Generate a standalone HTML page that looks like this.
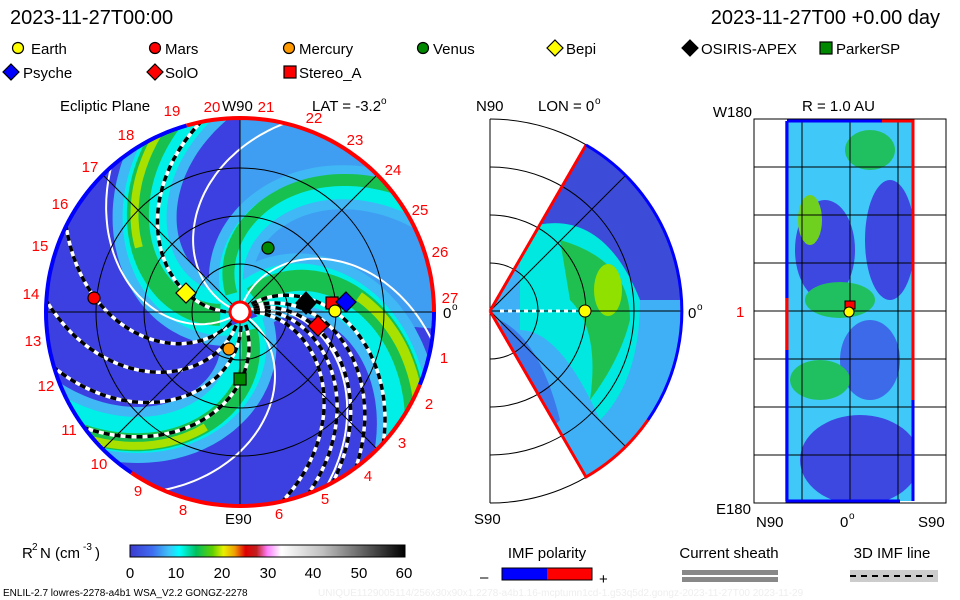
<!DOCTYPE html>
<html><head><meta charset="utf-8"><style>
body{margin:0;background:#fff;}
svg{display:block;font-family:"Liberation Sans",sans-serif;}
</style></head><body>
<svg id="s" width="960" height="600" viewBox="0 0 960 600" xmlns="http://www.w3.org/2000/svg">
<defs>
<clipPath id="disc"><circle cx="240" cy="312" r="194"/></clipPath>
<clipPath id="wedge"><path d="M490,311 L586,145 A192,192 0 0 1 586,477 Z"/></clipPath>
<clipPath id="rect"><rect x="785" y="121" width="129" height="380"/></clipPath>
<linearGradient id="cb" x1="0" x2="1">
<stop offset="0" stop-color="#3b3bd0"/><stop offset="0.08" stop-color="#3f6cf0"/><stop offset="0.14" stop-color="#3fc0f8"/><stop offset="0.18" stop-color="#00ffff"/><stop offset="0.24" stop-color="#00c060"/><stop offset="0.3" stop-color="#60d000"/><stop offset="0.34" stop-color="#e8f000"/><stop offset="0.38" stop-color="#f0a000"/><stop offset="0.42" stop-color="#e00000"/><stop offset="0.46" stop-color="#c02020"/><stop offset="0.5" stop-color="#ff80ff"/><stop offset="0.55" stop-color="#ffffff"/><stop offset="0.7" stop-color="#c0c0c0"/><stop offset="1" stop-color="#000"/>
</linearGradient>
</defs>
<g font-size="20" fill="#000">
<text x="10" y="24">2023-11-27T00:00</text>
<text x="940" y="24" text-anchor="end">2023-11-27T00 +0.00 day</text>
</g>
<g font-size="15" fill="#000" stroke="#000" stroke-width="1.2">
<circle cx="18" cy="48" r="5.5" fill="#ff0"/><circle cx="155" cy="48" r="5.5" fill="#f00"/><circle cx="289" cy="48" r="5.5" fill="#f90"/><circle cx="423" cy="48" r="5.5" fill="#080"/>
<path d="M555,40 L563,48 L555,56 L547,48Z" fill="#ff0"/><path d="M690,40 L698,48 L690,56 L682,48Z" fill="#000"/><rect x="820" y="42" width="12" height="12" fill="#080"/>
<path d="M11,64 L19,72 L11,80 L3,72Z" fill="#00f"/><path d="M155,64 L163,72 L155,80 L147,72Z" fill="#f00"/><rect x="284" y="66" width="12" height="12" fill="#f00"/>
</g>
<g font-size="15" fill="#000">
<text x="31" y="54">Earth</text><text x="165" y="54">Mars</text><text x="299" y="54">Mercury</text><text x="433" y="54">Venus</text><text x="566" y="54">Bepi</text><text x="701" y="54">OSIRIS-APEX</text><text x="836" y="54">ParkerSP</text>
<text x="23" y="78">Psyche</text><text x="165" y="78">SolO</text><text x="299" y="78">Stereo_A</text>
<text x="60" y="111">Ecliptic Plane</text><text x="222" y="111">W90</text><text x="312" y="111">LAT = -3.2</text><text x="381" y="104" font-size="10">o</text>
<text x="476" y="111">N90</text><text x="538" y="111">LON = 0</text><text x="595" y="104" font-size="10">o</text>
<text x="752" y="117" text-anchor="end">W180</text><text x="802" y="111">R = 1.0 AU</text>
</g>
<!-- main disc -->
<g clip-path="url(#disc)">
<rect x="40" y="110" width="400" height="400" fill="#3c40e0"/>
<path d="M240,312 L240,100 L450,100 L450,330 Z" fill="#40a8f4" opacity="0.9"/>
<g id="bands"></g>
</g>
<g id="dash" clip-path="url(#disc)"></g>
<g stroke="#000" stroke-width="1" fill="none" clip-path="url(#disc)">
<circle cx="240" cy="312" r="48"/><circle cx="240" cy="312" r="96"/><circle cx="240" cy="312" r="144"/>
<line x1="40" y1="312" x2="440" y2="312"/><line x1="240" y1="110" x2="240" y2="515"/>
<line x1="100" y1="172" x2="380" y2="452"/><line x1="100" y1="452" x2="380" y2="172"/>
</g>
<circle cx="240" cy="312" r="10" fill="#fff" stroke="#f00" stroke-width="3"/>
<g stroke="#000" stroke-width="1.2">
<circle cx="268" cy="248" r="6" fill="#080"/>
<path d="M186,283 L196,293 L186,303 L176,293Z" fill="#ff0"/>
<circle cx="94" cy="298" r="6" fill="#f00"/>
<circle cx="229" cy="349" r="6" fill="#f90"/>
<rect x="234" y="373" width="12" height="12" fill="#080"/>
<path d="M306,292 L316,303 L306,314 L296,303Z" fill="#000"/>
<rect x="326" y="297" width="12" height="12" fill="#f00"/>
<path d="M346,292 L356,302 L346,312 L336,302Z" fill="#00f"/>
<circle cx="335" cy="311" r="6" fill="#ff0"/>
<path d="M318,316 L328,326 L318,336 L308,326Z" fill="#f00"/>
</g>
<g font-size="15" fill="#f00" text-anchor="middle" id="nums"></g>
<g font-size="15" fill="#000"><text x="443" y="318">0</text><text x="452" y="310" font-size="10">o</text><text x="225" y="524">E90</text></g>
<!-- middle -->
<g clip-path="url(#wedge)">
<rect x="490" y="140" width="200" height="340" fill="#3fb0f6"/>
<path d="M490,311 L586,145 A192,192 0 0 1 682,300 L600,300 Q560,220 500,250Z" fill="#3c4cd8"/>
<path d="M520,230 Q600,200 640,300 Q640,380 600,420 Q560,330 520,330Z" fill="#00e8e0"/>
<path d="M560,240 Q630,260 630,320 Q620,360 590,400 Q600,330 570,300 Z" fill="#20c050"/>
<ellipse cx="608" cy="290" rx="14" ry="26" fill="#90e000"/>
<path d="M500,320 Q540,340 560,420 L520,460 Z" fill="#3c6ce8" opacity="0.8"/>
</g>
<g stroke="#000" stroke-width="1" fill="none">
<line x1="490" y1="119" x2="490" y2="503"/>
<path d="M490,263 A48,48 0 0 1 490,359 M490,215 A96,96 0 0 1 490,407 M490,167 A144,144 0 0 1 490,455 M490,119 A192,192 0 0 1 490,503"/>
<line x1="490" y1="311" x2="682" y2="311"/>
<line x1="490" y1="311" x2="626" y2="175"/><line x1="490" y1="311" x2="626" y2="447"/>
</g>
<path d="M490,311 L586,145" stroke="#f00" stroke-width="3"/>
<path d="M490,311 L586,477 A192,192 0 0 0 648,420" stroke="#f00" stroke-width="3" fill="none"/>
<path d="M586,145 A192,192 0 0 1 648,420" stroke="#00f" stroke-width="3" fill="none"/>
<path d="M500,311 L585,311" stroke="#fff" stroke-width="3" stroke-dasharray="4,4"/>
<circle cx="585" cy="311" r="6" fill="#ff0" stroke="#000"/>
<text x="688" y="318" font-size="15">0</text><text x="697" y="310" font-size="10">o</text>
<text x="474" y="524" font-size="15">S90</text>
<!-- right -->
<g clip-path="url(#rect)">
<rect x="785" y="121" width="129" height="380" fill="#3fc8f8"/>
<ellipse cx="825" cy="250" rx="30" ry="50" fill="#3c48e0"/>
<ellipse cx="890" cy="240" rx="25" ry="60" fill="#3c48e0"/>
<ellipse cx="860" cy="460" rx="60" ry="45" fill="#3c48e0"/>
<ellipse cx="870" cy="360" rx="30" ry="40" fill="#3c6ae8"/>
<ellipse cx="840" cy="300" rx="35" ry="18" fill="#20c060"/>
<ellipse cx="820" cy="380" rx="30" ry="20" fill="#20c060"/>
<ellipse cx="870" cy="150" rx="25" ry="20" fill="#20c060"/>
<ellipse cx="810" cy="220" rx="12" ry="25" fill="#70d020"/>
</g>
<g stroke="#000" stroke-width="1" fill="none">
<rect x="754" y="119" width="192" height="384"/>
<path d="M802,119V503M850,119V503M898,119V503M754,167H946M754,215H946M754,263H946M754,311H946M754,359H946M754,407H946M754,455H946"/>
</g>
<path d="M787,121V501H900" stroke="#00f" stroke-width="3" fill="none"/>
<path d="M787,121H882" stroke="#00f" stroke-width="3"/>
<path d="M882,121H913V400" stroke="#f00" stroke-width="3" fill="none"/>
<path d="M913,400V501" stroke="#00f" stroke-width="3"/>
<path d="M787,298V350" stroke="#f00" stroke-width="3"/>
<rect x="845" y="301" width="10" height="8" fill="#f00" stroke="#000"/>
<circle cx="849" cy="312" r="5" fill="#ff0" stroke="#000"/>
<g font-size="15"><text x="736" y="317" fill="#f00">1</text><text x="751" y="514" text-anchor="end">E180</text><text x="756" y="527">N90</text><text x="840" y="527">0</text><text x="849" y="519" font-size="10">o</text><text x="918" y="527">S90</text></g>
<!-- bottom legend -->
<text x="22" y="558" font-size="15">R</text><text x="32" y="550" font-size="10">2</text><text x="40" y="558" font-size="15">N (cm</text><text x="83" y="550" font-size="10">-3</text><text x="95" y="558" font-size="15">)</text>
<rect x="130" y="545" width="275" height="12" fill="url(#cb)" stroke="#000"/>
<g font-size="15" text-anchor="middle"><text x="130" y="578">0</text><text x="176" y="578">10</text><text x="222" y="578">20</text><text x="268" y="578">30</text><text x="313" y="578">40</text><text x="359" y="578">50</text><text x="404" y="578">60</text>
<text x="547" y="558">IMF polarity</text><text x="729" y="558">Current sheath</text><text x="892" y="558">3D IMF line</text></g>
<rect x="502" y="568" width="45" height="12" fill="#00f"/><rect x="547" y="568" width="45" height="12" fill="#f00"/><rect x="502" y="568" width="90" height="12" fill="none" stroke="#000"/>
<text x="480" y="582" font-size="15">–</text><text x="599" y="584" font-size="15">+</text>
<rect x="682" y="570" width="96" height="5" fill="#888"/><rect x="682" y="577" width="96" height="5" fill="#888"/>
<rect x="850" y="570" width="88" height="12" fill="#ccc"/><line x1="850" y1="576" x2="938" y2="576" stroke="#000" stroke-width="2" stroke-dasharray="6,5"/>
<text x="3" y="596" font-size="10">ENLIL-2.7 lowres-2278-a4b1 WSA_V2.2 GONGZ-2278</text>
<text x="318" y="596" font-size="10" fill="#eee">UNIQUE1129005114/256x30x90x1.2278-a4b1.16-mcptumn1cd-1.g53q5d2.gongz-2023-11-27T00  2023-11-29</text>
</svg>
<script>
var NS="http://www.w3.org/2000/svg",cx=240,cy=312,w=0.0075;
function sp(t0,r0,r1){var d="";for(var r=r0;r<=r1;r+=3){var t=(t0*Math.PI/180)-w*r;d+=(d?"L":"M")+(cx+r*Math.cos(t)).toFixed(1)+","+(cy-r*Math.sin(t)).toFixed(1);}return d;}
function P(g,d,c,wd,da){var p=document.createElementNS(NS,"path");p.setAttribute("d",d);p.setAttribute("stroke",c);p.setAttribute("stroke-width",wd);p.setAttribute("fill","none");if(da)p.setAttribute("stroke-dasharray",da);document.getElementById(g).appendChild(p);}
var bands=[[193,44],[53,42],[299,36],[120,24]];
bands.forEach(function(b){P("bands",sp(b[0],10,260),"#3fb8f5",b[1]+20);});
bands.forEach(function(b){P("bands",sp(b[0],10,260),"#00f0e8",b[1]);});
bands.forEach(function(b){P("bands",sp(b[0]+4,20,260),"#18c050",b[1]*0.5);});
[[193,8],[53,10],[299,8]].forEach(function(b){P("bands",sp(b[0]+6,120,260),"#a8e000",b[1]);});
[215,160,75,20,330].forEach(function(t){P("bands",sp(t,10,260),"#fff",2);});
[237,185,41,30,22,14,6,260,280,300].forEach(function(t){var d=sp(t,14,260);P("dash",d,"#fff",3.5);P("dash",d,"#000",3.5,"6,5");});
function arc(a1,a2,c){var r=194,d="";for(var a=a1;a<=a2;a+=2){var t=a*Math.PI/180;d+=(d?"L":"M")+(cx+r*Math.cos(t)).toFixed(1)+","+(cy-r*Math.sin(t)).toFixed(1);}var p=document.createElementNS(NS,"path");p.setAttribute("d",d);p.setAttribute("stroke",c);p.setAttribute("stroke-width",4);p.setAttribute("fill","none");document.getElementById("s").insertBefore(p,document.getElementById("nums"));}
arc(0,106,"#f00");arc(106,236,"#00f");arc(236,338,"#f00");arc(338,360,"#00f");
var n=[[19,172,116],[20,212,112],[21,266,112],[22,314,123],[23,355,145],[24,393,175],[25,420,215],[26,440,257],[27,450,303],[1,444,363],[2,429,409],[3,402,448],[4,368,481],[5,325,504],[6,279,519],[8,183,515],[9,138,496],[10,99,469],[11,69,435],[12,46,391],[13,33,346],[14,31,299],[15,40,251],[16,60,209],[17,90,172],[18,126,140]];
var g=document.getElementById("nums");n.forEach(function(a){var t=document.createElementNS(NS,"text");t.setAttribute("x",a[1]);t.setAttribute("y",a[2]);t.textContent=a[0];g.appendChild(t);});
</script>
</body></html>
